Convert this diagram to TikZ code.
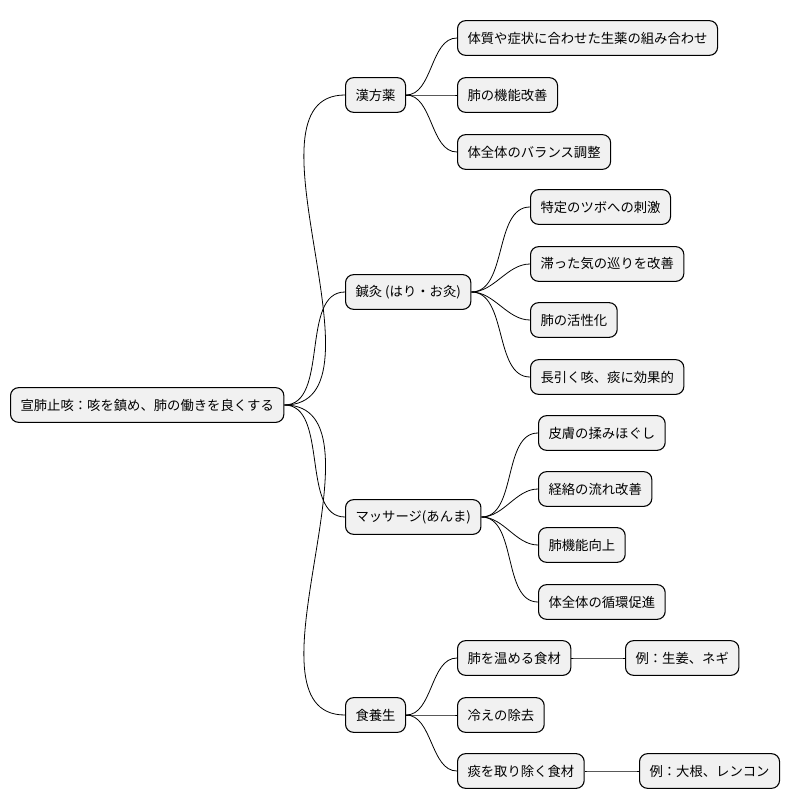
\documentclass[tikz,border=0pt]{standalone}
\usepackage{fontspec}
\setmainfont{Noto Sans CJK JP}
\usetikzlibrary{positioning}

\begin{document}
\begin{tikzpicture}[x=0.75pt,y=-0.75pt,
    topic/.style={draw=black,fill={rgb,255:red,241;green,241;blue,241},rounded corners=6pt,
        line width=0.8pt,font=\fontsize{10}{12}\selectfont,minimum height=26pt,
        inner xsep=7.5pt,inner ysep=0pt,anchor=west},
    branch/.style={line width=0.6pt,out=0,in=180,looseness=0.9}
]
\useasboundingbox (0,0) rectangle (796,809);

\node[topic] (root) at (10,405) {宣肺止咳：咳を鎮め、肺の働きを良くする};

\node[topic] (kampo) at (345,95) {漢方薬};
\node[topic] (shinkyu) at (345,292) {鍼灸 (はり・お灸)};
\node[topic] (massage) at (345,517) {マッサージ(あんま)};
\node[topic] (shoku) at (345,715) {食養生};

% 漢方薬
\node[topic] (k1) at (457,38) {体質や症状に合わせた生薬の組み合わせ};
\node[topic] (k2) at (457,95) {肺の機能改善};
\node[topic] (k3) at (457,152) {体全体のバランス調整};

% 鍼灸
\node[topic] (s1) at (530,207) {特定のツボへの刺激};
\node[topic] (s2) at (530,264) {滞った気の巡りを改善};
\node[topic] (s3) at (530,320) {肺の活性化};
\node[topic] (s4) at (530,377) {長引く咳、痰に効果的};

% マッサージ
\node[topic] (m1) at (538,433) {皮膚の揉みほぐし};
\node[topic] (m2) at (538,489) {経絡の流れ改善};
\node[topic] (m3) at (538,545) {肺機能向上};
\node[topic] (m4) at (538,602) {体全体の循環促進};

% 食養生
\node[topic] (f1) at (457,658) {肺を温める食材};
\node[topic] (f2) at (457,715) {冷えの除去};
\node[topic] (f3) at (457,771) {痰を取り除く食材};
\node[topic] (f1a) at (625,658) {例：生姜、ネギ};
\node[topic] (f3a) at (639,771) {例：大根、レンコン};

\foreach \a/\b in {root/kampo,root/shinkyu,root/massage,root/shoku,
    kampo/k1,kampo/k2,kampo/k3,
    shinkyu/s1,shinkyu/s2,shinkyu/s3,shinkyu/s4,
    massage/m1,massage/m2,massage/m3,massage/m4,
    shoku/f1,shoku/f2,shoku/f3,f1/f1a,f3/f3a}{
  \draw[branch] (\a.east) to (\b.west);
}

\end{tikzpicture}
\end{document}
